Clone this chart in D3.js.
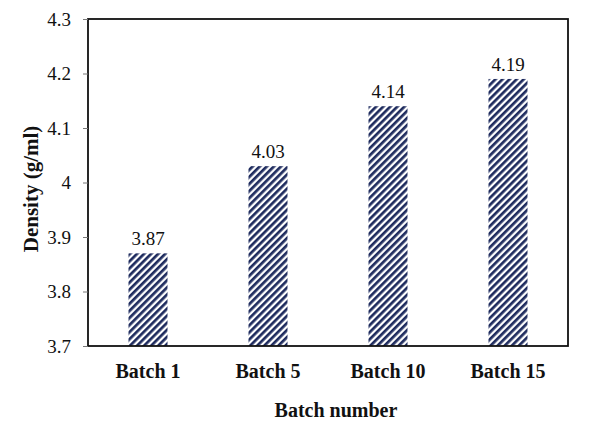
<!DOCTYPE html>
<html><head><meta charset="utf-8">
<script src="https://cdn.jsdelivr.net/npm/d3@7"></script>
<style>body{margin:0;background:#fff}svg{display:block}</style>
</head><body>
<svg id="c" width="600" height="429"></svg>
<script>
const categories = ["Batch 1", "Batch 5", "Batch 10", "Batch 15"];
const densities = [3.87, 4.03, 4.14, 4.19];
const valueLabels = ["3.87", "4.03", "4.14", "4.19"];
const yTicks = [3.7, 3.8, 3.9, 4.0, 4.1, 4.2, 4.3];
const yTickLabels = ["3.7", "3.8", "3.9", "4", "4.1", "4.2", "4.3"];

const svg = d3.select("#c");
const m = {l: 88, r: 32, t: 19, b: 83};
const W = 600, H = 429;
const x = d3.scaleBand().domain(categories).range([m.l, W - m.r]).paddingInner(0.675).paddingOuter(0.3375);
const y = d3.scaleLinear().domain([3.7, 4.3]).range([H - m.b, m.t]);
const font = "Liberation Serif";

const defs = svg.append("defs");
const pat = defs.append("pattern").attr("id", "hatch").attr("patternUnits", "userSpaceOnUse")
  .attr("width", 5).attr("height", 5).attr("patternTransform", "rotate(45)");
pat.append("rect").attr("width", 5).attr("height", 5).attr("fill", "#fff");
pat.append("rect").attr("x", 0).attr("y", 0).attr("width", 2.7).attr("height", 5).attr("fill", "#1e2b5e");

// bars
svg.append("g").selectAll("rect").data(categories).join("rect")
  .attr("x", d => x(d)).attr("width", x.bandwidth())
  .attr("y", (d, i) => y(densities[i])).attr("height", (d, i) => y(3.7) - y(densities[i]))
  .attr("fill", "url(#hatch)");

// value labels
svg.append("g").selectAll("text").data(categories).join("text")
  .attr("x", d => x(d) + x.bandwidth() / 2).attr("y", (d, i) => y(densities[i]) - 8)
  .attr("text-anchor", "middle").style("font-family", font).style("font-size", "19px")
  .attr("fill", "#111").text((d, i) => valueLabels[i]);

// frame
svg.append("rect").attr("x", m.l).attr("y", m.t).attr("width", W - m.r - m.l).attr("height", H - m.b - m.t)
  .attr("fill", "none").attr("stroke", "#111").attr("stroke-width", 1.8);

// y axis
const ya = svg.append("g").attr("transform", `translate(${m.l},0)`)
  .call(d3.axisLeft(y).tickValues(yTicks).tickSize(5).tickPadding(12).tickFormat((d, i) => yTickLabels[i]));
ya.select(".domain").remove();
ya.attr("font-family", null);
ya.selectAll("line").attr("stroke", "#777");
ya.selectAll("text").style("font-family", font).style("font-size", "19px").attr("fill", "#111");

// x axis
const xa = svg.append("g").attr("transform", `translate(0,${H - m.b})`)
  .call(d3.axisBottom(x).tickSize(0).tickPadding(18));
xa.select(".domain").remove();
xa.attr("font-family", null);
xa.selectAll("text").style("font-family", font).style("font-size", "20px").style("font-weight", "bold").attr("fill", "#111");

// axis titles
svg.append("text").attr("x", (m.l + W - m.r) / 2 + 8).attr("y", 417).attr("text-anchor", "middle")
  .style("font-family", font).style("font-size", "20px").style("font-weight", "bold").attr("fill", "#111").text("Batch number");
svg.append("text").attr("transform", `translate(38,189) rotate(-90)`).attr("text-anchor", "middle")
  .style("font-family", font).style("font-size", "21px").style("font-weight", "bold").attr("fill", "#111").text("Density (g/ml)");
</script>
</body></html>
